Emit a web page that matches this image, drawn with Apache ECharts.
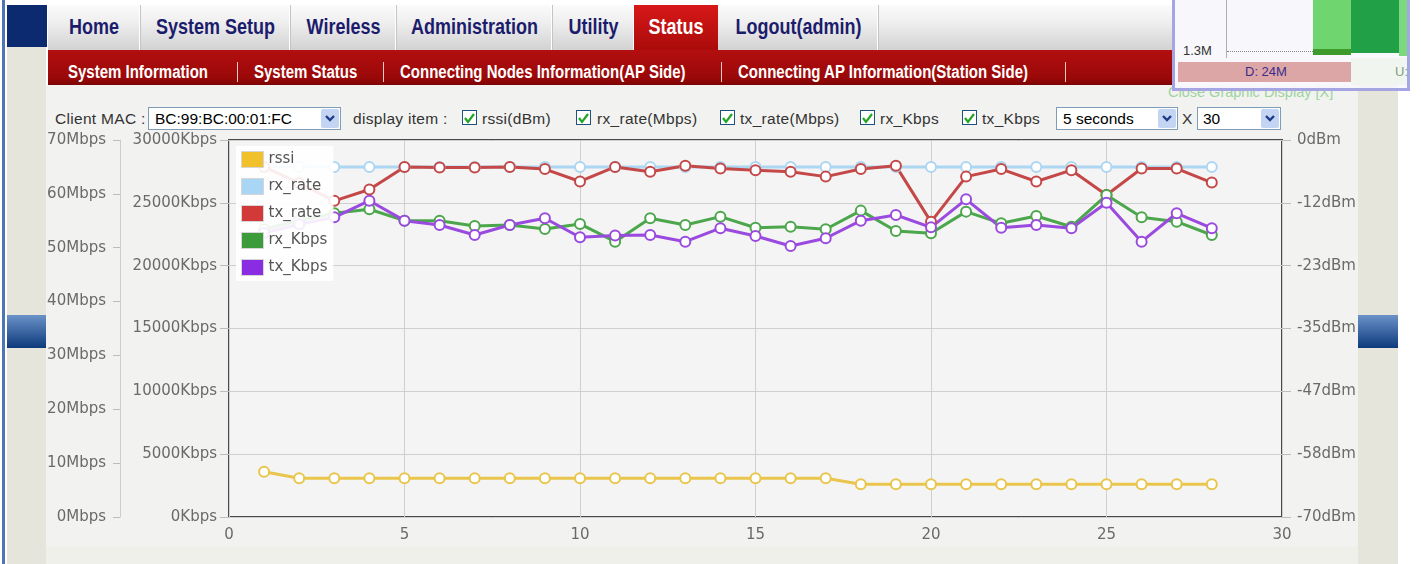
<!DOCTYPE html>
<html>
<head>
<meta charset="utf-8">
<script src="https://cdn.jsdelivr.net/npm/echarts@6/dist/echarts.min.js"></script>
<style>
body{margin:0;width:1421px;height:564px;overflow:hidden;background:#fff;position:relative;font-family:"Liberation Sans",Arial,sans-serif}
.a{position:absolute}
.tab{position:absolute;top:5px;height:45px;line-height:45px;text-align:center;font-weight:bold;font-size:18px;color:#1c1c6c;border-right:1px solid #c4c4c4;box-shadow:inset -1px 0 0 #fff}
.tab span{display:inline-block;transform:scaleY(1.2)}
.sub{position:absolute;top:63px;font-weight:bold;font-size:15px;color:#fff;white-space:nowrap}
.sub span{display:inline-block;transform:scaleY(1.2)}
.sep{position:absolute;top:62px;width:1px;height:20px;background:#e8c8c8}
.lbl{position:absolute;top:110px;font-size:15.5px;color:#333;white-space:nowrap;letter-spacing:0.3px}
.cb{position:absolute;top:110px;width:13px;height:13px;border:1px solid #1d5281;background:#fff}
.sel{position:absolute;top:107px;height:21px;border:1px solid #7f9db9;background:#fff;font-size:15.5px;line-height:21px;color:#000;white-space:nowrap}
.btn{position:absolute;top:1px;right:1px;width:18px;height:19px;background:#c3d5f3;border-radius:2px}
</style>
</head>
<body>
<!-- page frame -->
<div class="a" style="left:2px;top:0;width:3px;height:564px;background:#4f74b8"></div>
<div class="a" style="left:7px;top:45px;width:39px;height:519px;background:#e5e5db"></div>
<div class="a" style="left:7px;top:5px;width:40px;height:42px;background:#0b2a6f"></div>
<div class="a" style="left:7px;top:315px;width:39px;height:33px;background:linear-gradient(#6b92c8,#0d3a7c)"></div>
<div class="a" style="left:46px;top:85px;width:1312px;height:461px;background:#f2f2f0"></div>
<div class="a" style="left:46px;top:546px;width:1352px;height:18px;background:#f0f0ea"></div>
<div class="a" style="left:1358px;top:85px;width:40px;height:479px;background:#e5e5db"></div>
<div class="a" style="left:1358px;top:315px;width:40px;height:33px;background:linear-gradient(#6b92c8,#0d3a7c)"></div>

<!-- top tabs -->
<div class="a" style="left:48px;top:5px;width:1126px;height:45px;background:linear-gradient(#fbfbfb,#eeeeee 40%,#d2d2d2)"></div>
<div class="tab" style="left:48px;width:92px"><span>Home</span></div>
<div class="tab" style="left:141px;width:149px"><span>System Setup</span></div>
<div class="tab" style="left:291px;width:105px"><span>Wireless</span></div>
<div class="tab" style="left:397px;width:155px"><span>Administration</span></div>
<div class="tab" style="left:553px;width:81px"><span>Utility</span></div>
<div class="tab" style="left:634px;width:84px;height:47px;background:linear-gradient(#d81818,#a80a0a);color:#fff;border:none;box-shadow:none"><span>Status</span></div>
<div class="tab" style="left:719px;width:159px"><span>Logout(admin)</span></div>

<!-- red sub menu -->
<div class="a" style="left:48px;top:50px;width:1126px;height:35px;background:linear-gradient(#b30f0f,#9a0808 80%,#7c0505)"></div>
<div class="sub" style="left:68px"><span>System Information</span></div>
<div class="sep" style="left:237px"></div>
<div class="sub" style="left:254px"><span>System Status</span></div>
<div class="sep" style="left:383px"></div>
<div class="sub" style="left:400px"><span>Connecting Nodes Information(AP Side)</span></div>
<div class="sep" style="left:721px"></div>
<div class="sub" style="left:738px"><span>Connecting AP Information(Station Side)</span></div>
<div class="sep" style="left:1065px"></div>

<!-- graphic display overlay -->
<div class="a" style="left:1168px;top:84px;font-size:14.5px;color:#9ed49e;white-space:nowrap">Close Graphic Display [X]</div>
<div class="a" style="left:1172px;top:-3px;width:232px;height:88px;border:3px solid rgba(150,150,222,0.85);background:rgba(246,246,252,0.92);overflow:hidden">
  <div class="a" style="left:51px;top:0;width:1px;height:58px;background:#b0b0b0"></div>
  <div class="a" style="left:8px;top:43px;font-size:13px;color:#333">1.3M</div>
  <div class="a" style="left:52px;top:51px;width:86px;border-top:1px dotted #888"></div>
  <div class="a" style="left:138px;top:0;width:38px;height:55px;background:#6fd66f"></div>
  <div class="a" style="left:138px;top:49px;width:38px;height:6px;background:#3f9a2c"></div>
  <div class="a" style="left:176px;top:0;width:48px;height:53px;background:#22a048"></div>
  <div class="a" style="left:224px;top:0;width:12px;height:56px;background:#7cd87c"></div>
  <div class="a" style="left:3px;top:62px;width:173px;height:20px;background:#dca6a6"></div>
  <div class="a" style="left:176px;top:58px;width:60px;height:27px;background:#f1f5ef"></div>
  <div class="a" style="left:70px;top:64px;font-size:13px;color:#3b2d8c">D: 24M</div>
  <div class="a" style="left:220px;top:64px;font-size:13px;color:#7fa07f">U:</div>
</div>

<!-- controls row -->
<div class="lbl" style="left:55px">Client MAC :</div>
<div class="sel" style="left:148px;width:191px"><span style="padding-left:6px">BC:99:BC:00:01:FC</span><div class="btn"><svg width="18" height="19"><polyline points="5,7 9,11 13,7" fill="none" stroke="#1f3c8a" stroke-width="2.4"/></svg></div></div>
<div class="lbl" style="left:353px">display item :</div>
<div class="cb" style="left:462px"><svg width="13" height="13"><polyline points="2,6 5,10 11,2" fill="none" stroke="#22a522" stroke-width="2.2"/></svg></div>
<div class="lbl" style="left:482px">rssi(dBm)</div>
<div class="cb" style="left:576px"><svg width="13" height="13"><polyline points="2,6 5,10 11,2" fill="none" stroke="#22a522" stroke-width="2.2"/></svg></div>
<div class="lbl" style="left:597px">rx_rate(Mbps)</div>
<div class="cb" style="left:720px"><svg width="13" height="13"><polyline points="2,6 5,10 11,2" fill="none" stroke="#22a522" stroke-width="2.2"/></svg></div>
<div class="lbl" style="left:740px">tx_rate(Mbps)</div>
<div class="cb" style="left:860px"><svg width="13" height="13"><polyline points="2,6 5,10 11,2" fill="none" stroke="#22a522" stroke-width="2.2"/></svg></div>
<div class="lbl" style="left:880px">rx_Kbps</div>
<div class="cb" style="left:962px"><svg width="13" height="13"><polyline points="2,6 5,10 11,2" fill="none" stroke="#22a522" stroke-width="2.2"/></svg></div>
<div class="lbl" style="left:982px">tx_Kbps</div>
<div class="sel" style="left:1056px;width:120px"><span style="padding-left:6px">5 seconds</span><div class="btn"><svg width="18" height="19"><polyline points="5,7 9,11 13,7" fill="none" stroke="#1f3c8a" stroke-width="2.4"/></svg></div></div>
<div class="lbl" style="left:1182px">X</div>
<div class="sel" style="left:1197px;width:82px"><span style="padding-left:5px">30</span><div class="btn"><svg width="18" height="19"><polyline points="5,7 9,11 13,7" fill="none" stroke="#1f3c8a" stroke-width="2.4"/></svg></div></div>

<div id="chart" class="a" style="left:0;top:0;width:1421px;height:564px"></div>
<script>
// sample number (every 5 seconds)
var sampleNo = [1, 2, 3, 4, 5, 6, 7, 8, 9, 10, 11, 12, 13, 14, 15, 16, 17, 18, 19, 20, 21, 22, 23, 24, 25, 26, 27, 28];

var rssi = [-61.6, -62.8, -62.8, -62.8, -62.8, -62.8, -62.8, -62.8, -62.8, -62.8, -62.8, -62.8, -62.8, -62.8,
    -62.8, -62.8, -62.8, -63.9, -63.9, -63.9, -63.9, -63.9, -63.9, -63.9, -63.9, -63.9, -63.9, -63.9];
var rxRate = [65, 65, 65, 65, 65, 65, 65, 65, 65, 65, 65, 65, 65, 65,
    65, 65, 65, 65, 65, 65, 65, 65, 65, 65, 65, 65, 65, 65];
var txRate = [65, 62, 58.7, 60.8, 65, 64.9, 64.9, 65, 64.6, 62.3, 65, 64.1, 65.2, 64.7,
    64.4, 64.1, 63.2, 64.6, 65.2, 54.8, 63.2, 64.6, 62.3, 64.4, 59.8, 64.7, 64.7, 62.1];
var rxKbps = [22900, 23600, 24170, 24490, 23580, 23580, 23160, 23240, 22920, 23320, 21910, 23770, 23240, 23900,
    23020, 23100, 22900, 24380, 22760, 22580, 24300, 23370, 23950, 23100, 25620, 23850, 23500, 22440];
var txKbps = [22600, 23300, 23850, 25170, 23580, 23240, 22440, 23240, 23770, 22260, 22400, 22440, 21910, 22980,
    22360, 21570, 22180, 23580, 24030, 23050, 25280, 23020, 23240, 22980, 25010, 21910, 24170, 22980];

var colors = {
    rssi: '#e9c54c',
    rx_rate: '#acd6f2',
    tx_rate: '#c44848',
    rx_Kbps: '#4ca64c',
    tx_Kbps: '#9a4ade'
};
var legendColors = {
    rssi: '#f1c12c',
    rx_rate: '#aad6f6',
    tx_rate: '#d23a3a',
    rx_Kbps: '#3c9c3c',
    tx_Kbps: '#8a2ce2'
};

function pairs(vals) {
    return sampleNo.map(function (n, i) { return [n, vals[i]]; });
}

function lineSeries(name, vals, axis) {
    return {
        name: name,
        type: 'line',
        yAxisIndex: axis,
        data: pairs(vals),
        symbol: 'emptyCircle',
        symbolSize: 10,
        showAllSymbol: true,
        lineStyle: { color: colors[name], width: 3 },
        itemStyle: { color: colors[name], borderWidth: 2.5 },
        emphasis: { disabled: true }
    };
}

var labelFont = { fontFamily: 'DejaVu Sans', fontSize: 15, color: '#6a6a6a' };

var myChart = echarts.init(document.getElementById('chart'));
var option = {
    animation: false,
    grid: {
        left: 229, top: 140, width: 1053, height: 377,
        show: true, borderColor: '#4a4a4a', borderWidth: 2, backgroundColor: '#f4f4f4'
    },
    legend: {
        left: 236, top: 146,
        orient: 'vertical',
        icon: 'rect',
        itemWidth: 22, itemHeight: 16, itemGap: 10,
        padding: [5, 6, 5, 5],
        backgroundColor: 'rgba(255,255,255,0.9)',
        textStyle: { fontFamily: 'DejaVu Sans', fontSize: 15, color: '#555' },
        data: ['rssi', 'rx_rate', 'tx_rate', 'rx_Kbps', 'tx_Kbps'].map(function (n) {
            return { name: n, itemStyle: { color: legendColors[n], borderColor: '#d6d6d6', borderWidth: 1 } };
        })
    },
    xAxis: {
        type: 'value', min: 0, max: 30, interval: 5,
        axisLine: { show: false },
        axisTick: { show: false },
        axisLabel: Object.assign({ margin: 11 }, labelFont),
        splitLine: { lineStyle: { color: '#cfcfcf' } }
    },
    yAxis: [
        {
            type: 'value', position: 'left', min: 0, max: 30000, interval: 5000,
            axisLine: { show: false },
            axisTick: { show: true, length: 9, lineStyle: { color: '#bdbdbd' } },
            axisLabel: Object.assign({ margin: 12, formatter: function (v) { return v + 'Kbps'; } }, labelFont),
            splitLine: { lineStyle: { color: '#cfcfcf' } }
        },
        {
            type: 'value', position: 'left', offset: 109, min: 0, max: 70, interval: 10,
            axisLine: { show: true, lineStyle: { color: '#cccccc' } },
            axisTick: { show: true, length: 7, lineStyle: { color: '#bdbdbd' } },
            axisLabel: Object.assign({ margin: 14, formatter: function (v) { return v + 'Mbps'; } }, labelFont),
            splitLine: { show: false }
        },
        {
            type: 'value', position: 'right', min: -70, max: 0, interval: 70 / 6,
            axisLine: { show: false },
            axisTick: { show: true, length: 9, lineStyle: { color: '#bdbdbd' } },
            axisLabel: Object.assign({ margin: 15, formatter: function (v) { return Math.round(v) + 'dBm'; } }, labelFont),
            splitLine: { show: false }
        }
    ],
    series: [
        lineSeries('rssi', rssi, 2),
        lineSeries('rx_rate', rxRate, 1),
        lineSeries('tx_rate', txRate, 1),
        lineSeries('rx_Kbps', rxKbps, 0),
        lineSeries('tx_Kbps', txKbps, 0)
    ]
};
myChart.setOption(option);
</script>
</body>
</html>
